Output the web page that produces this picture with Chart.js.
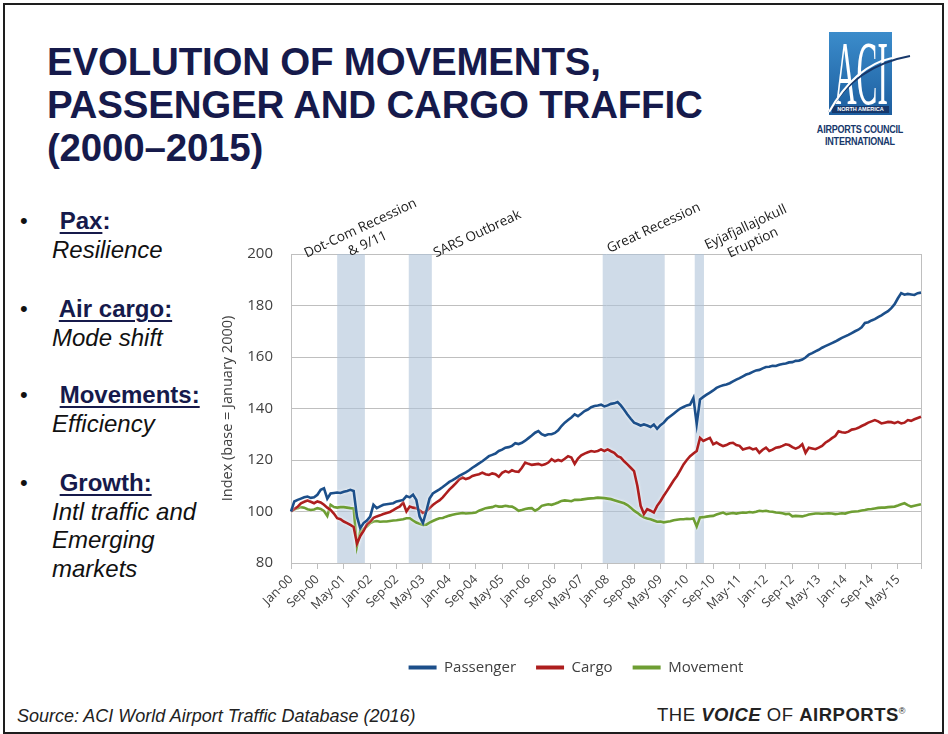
<!DOCTYPE html>
<html>
<head>
<meta charset="utf-8">
<script src="https://cdn.jsdelivr.net/npm/chart.js@4.4.1/dist/chart.umd.min.js"></script>
<style>
  body { margin: 0; width: 948px; height: 734px; overflow: hidden; background: #fff; position: relative;
         font-family: "Liberation Sans", Arial, sans-serif; }
  .frame { position: absolute; left: 3px; top: 3px; width: 937px; height: 727px; border: 2px solid #1e1e1e; }
  .title { position: absolute; left: 47px; top: 40px; font-weight: bold; font-size: 38.5px; line-height: 43px;
           color: #161a4b; letter-spacing: -0.2px; white-space: nowrap; }
  .blk { position: absolute; left: 0; font-size: 24px; line-height: 28.5px; }
  .blk .dot { position: absolute; left: 20px; top: 0; color: #111; font-size: 22px; }
  .blk .h { position: absolute; left: 53px; top: 0; font-weight: bold; color: #161a4b; white-space: pre; }
  .blk .h u { text-decoration-thickness: 2px; text-underline-offset: 3px; }
  .blk .t { position: absolute; left: 52px; top: 28.5px; font-style: italic; color: #111; white-space: nowrap; }
  #wrap { position: absolute; left: 200px; top: 190px; }
  .src { position: absolute; left: 17px; top: 706px; font-size: 18px; font-style: italic; color: #222; white-space: nowrap; }
  .voice { position: absolute; left: 657px; top: 704px; font-size: 18.5px; letter-spacing: 0.5px; color: #222; white-space: nowrap; }
  .voice sup { font-size: 9px; }
  .lbox { position: absolute; left: 829px; top: 32px; width: 63px; height: 83px;
          background: linear-gradient(#3b8ccb, #1d5e9f); overflow: hidden; }
  .aci { position: absolute; left: 5px; top: -12px; color: #fff; white-space: nowrap;
         font-family: "Liberation Serif", serif; font-size: 92px; transform: scaleX(0.34); transform-origin: 0 0; }
  .na { position: absolute; left: 3px; top: 74px; width: 57px; height: 7px; background: #17386b; color: #fff;
        font-size: 5.5px; line-height: 7px; text-align: center; font-weight: bold; white-space: nowrap; }
  .ltxt { position: absolute; left: 860px; top: 124px; font-weight: bold; font-size: 11px; line-height: 11.5px;
          color: #17386b; letter-spacing: -0.3px; white-space: nowrap; text-align: center;
          transform: translateX(-50%) scaleX(0.82); }
</style>
</head>
<body>
<div class="frame"></div>
<div class="title">EVOLUTION OF MOVEMENTS,<br>PASSENGER AND CARGO TRAFFIC<br>(2000–2015)</div>

<div class="lbox">
  <div class="aci">ACI</div>
  <div class="na">NORTH AMERICA</div>
</div>
<svg style="position:absolute;left:815px;top:40px" width="100" height="80">
  <path d="M14,72 Q40,26 95,16" stroke="#17386b" stroke-width="2" fill="none"/>
  <path d="M14,72 Q40,26 77,18" stroke="#ffffff" stroke-width="2.2" fill="none"/>
</svg>
<div class="ltxt">AIRPORTS COUNCIL<br>INTERNATIONAL</div>

<div class="blk" style="top:207px"><span class="dot">•</span><span class="h"> <u>Pax</u>:</span><span class="t">Resilience</span></div>
<div class="blk" style="top:295px"><span class="dot">•</span><span class="h"> <u>Air cargo:</u></span><span class="t">Mode shift</span></div>
<div class="blk" style="top:381px"><span class="dot">•</span><span class="h"> <u>Movements:</u></span><span class="t">Efficiency</span></div>
<div class="blk" style="top:469px"><span class="dot">•</span><span class="h"> <u>Growth:</u></span><span class="t">Intl traffic and<br>Emerging<br>markets</span></div>

<div id="wrap"><canvas id="myChart" width="735" height="495"></canvas></div>

<div class="src">Source: ACI World Airport Traffic Database (2016)</div>
<div class="voice">THE <b><i>VOICE</i></b> OF <b>AIRPORTS</b><sup>®</sup></div>

<script>
// Monthly index, base Jan-2000 = 100 (one row per year, Jan..Dec, 2000-2015)
const months = ["Jan", "Feb", "Mar", "Apr", "May", "Jun", "Jul", "Aug", "Sep", "Oct", "Nov", "Dec"];
const years = [2000, 2001, 2002, 2003, 2004, 2005, 2006, 2007, 2008, 2009, 2010, 2011, 2012, 2013, 2014, 2015];

const passenger = [
  100, 103.9, 104.5, 105, 105.5, 105.8, 105.3, 105.5, 106.5, 108.4, 109, 105,
  107, 107.2, 107.4, 107.2, 107.7, 108, 108.4, 108, 98, 93.5, 95.5, 96.5,
  98, 102.6, 101.3, 102, 102.6, 102.8, 103, 103.2, 103.9, 104.2, 104.5, 106,
  105.5, 106.5, 104.5, 98, 95.5, 100, 105, 107, 107.8, 108.6, 109.5, 110.5,
  111.5, 112.2, 113, 113.8, 114.5, 115.2, 116, 117, 117.8, 118.7, 119.5, 120.5,
  121.5, 122, 122.5, 123.5, 124, 124.8, 125, 125.5, 126.5, 126.2, 126.7, 127.5,
  128.5, 129.5, 130.6, 131.2, 130, 129.5, 130, 130, 130.5, 131.5, 133.2, 134.5,
  135.5, 136.5, 137.7, 137, 138, 139, 139.6, 140.5, 141, 141.2, 141.5, 140.8,
  141.2, 141.8, 142, 142.5, 141.2, 139.5, 137.7, 136, 134.5, 134, 133.4, 133.8,
  133.4, 132.8, 133.8, 132.1, 133.5, 134.5, 136, 137, 138, 139, 140, 140.6,
  141.2, 141.5, 144.1, 134, 143.5, 144.5, 145.4, 146.2, 147, 148, 148.6, 149,
  149.3, 149.8, 150.5, 151.2, 151.8, 152.5, 153.2, 153.6, 154.2, 154.8, 155, 155.6,
  156.1, 156.2, 156.6, 156.5, 157, 157.3, 157.5, 157.9, 158, 158.5, 158.6, 159,
  159.8, 160.9, 161.5, 162.2, 162.8, 163.6, 164.2, 164.8, 165.4, 166, 166.7, 167.4,
  168, 168.6, 169.3, 170, 170.6, 171.5, 173.2, 173.5, 174.2, 174.7, 175.5, 176.2,
  177, 177.8, 179, 180.5, 182.8, 184.8, 184.2, 184.5, 184.3, 184.1, 184.8, 185
];

const cargo = [
  100, 101, 101.8, 103.2, 103.8, 104.3, 103.8, 103.2, 103.9, 103.5, 102.6, 101.5,
  100.6, 99.2, 97.4, 97, 96.1, 95.5, 94.8, 94, 87.5, 90.5, 92.5, 95,
  96.1, 97.5, 98.1, 98.5, 99, 99.4, 99.8, 100.5, 101.3, 102, 103.5, 100,
  101.9, 101.5, 101.3, 100.5, 99.4, 100, 101.3, 102.5, 103.5, 104.3, 105.5, 107,
  108.5, 109.7, 111, 112.5, 113.2, 112.6, 113, 113.8, 114.2, 114.5, 115.1, 114.5,
  114.2, 114.8, 114.5, 113.5, 115, 115.7, 115.2, 116, 115.5, 115.4, 117, 119,
  118.5, 118.1, 118.3, 118.5, 118, 118.3, 119, 120.3, 119.5, 120, 119.6, 120.5,
  121.5, 121, 118.5, 120.6, 121.8, 122.5, 123, 123.5, 123.2, 123.5, 124.1, 123.5,
  124.1, 123.4, 122.8, 121.5, 120.9, 119.5, 118.3, 117, 115.7, 110, 102.2, 99,
  100.9, 100.3, 99.6, 102.2, 104, 106.1, 108, 110, 112, 113.8, 116, 118.3,
  120, 121.5, 122.5, 123.5, 128.6, 127.4, 128, 128.6, 126.1, 126.8, 126, 125.4,
  125.8, 126.5, 126.7, 125.8, 125.5, 124.1, 124.5, 124.8, 124.1, 124.5, 122.8, 124,
  124.8, 123.5, 124, 124.8, 125, 125.5, 126.1, 125.8, 125, 124.4, 125, 126.1,
  122.8, 124.8, 124.5, 124.2, 124.8, 125.5, 126.7, 127.5, 128.5, 129.3, 131.2, 130.8,
  130.6, 131, 131.8, 132, 132.5, 133.2, 133.8, 134.5, 135, 135.5, 135, 134.2,
  134.5, 134.8, 134.7, 134.3, 134.8, 134.2, 134.5, 135.5, 135.2, 135.8, 136.3, 136.8
];

const movement = [
  100, 100.8, 101.3, 101.7, 101.5, 100.9, 100.6, 100.8, 101.3, 101, 100.2, 98.3,
  102.6, 101.7, 101.5, 101.7, 101.7, 101.5, 101.3, 101.2, 86.5, 92.3, 93.3, 94.2,
  95.5, 96.1, 96.3, 96, 96.1, 96.1, 96.3, 96.5, 96.6, 96.8, 97, 97.4,
  97.4, 96.5, 95.7, 95.2, 94.8, 94.9, 95.7, 96.3, 96.9, 97.4, 97.5, 98,
  98.4, 98.7, 99, 99.2, 99.4, 99.2, 99.3, 99.4, 99.6, 100.3, 100.8, 101.3,
  101.5, 101.7, 102.2, 101.9, 101.9, 102.2, 102, 101.9, 101.2, 100.3, 100.6, 101,
  101.2, 101.3, 100.3, 101, 102.2, 102.5, 102.8, 102.6, 103, 103.5, 104.1, 104.3,
  104.2, 104, 104.5, 104.5, 104.6, 104.8, 105, 105.1, 105.2, 105.4, 105.3, 105.2,
  105, 104.8, 104.4, 104, 103.6, 103.2, 102.5, 101.5, 100.3, 99.5, 98.5, 97.7,
  97.3, 97, 96.5, 96, 96.1, 95.8, 96, 96.2, 96.6, 96.8, 97, 97,
  97.2, 97.1, 97.3, 94.2, 97.7, 97.8, 98, 98.2, 98.3, 98.8, 99.2, 99.6,
  99, 99.2, 99.4, 99.2, 99.4, 99.6, 99.5, 99.8, 99.6, 99.9, 100.3, 100.1,
  100.3, 100, 99.9, 99.6, 99.5, 99.3, 99, 99.1, 98.1, 98.3, 98.2, 98.1,
  98.4, 98.8, 99, 99.2, 99.2, 99.1, 99.2, 99.3, 99.2, 99, 99.1, 99.3,
  99.2, 99.6, 99.9, 100, 100.1, 100.4, 100.6, 100.9, 101, 101.2, 101.4, 101.5,
  101.5, 101.7, 101.8, 101.9, 102.3, 102.8, 103.2, 102.5, 101.9, 102.2, 102.5, 102.8
];

// shaded events, in month index (0 = Jan-00)
const bandStart = [14, 35.7, 94.5, 122.4];
const bandEnd = [22.4, 42.7, 113.3, 125.2];
const bandLabels = [["Dot-Com Recession", "& 9/11"], ["SARS Outbreak"], ["Great Recession"], ["Eyjafjallajokull", "Eruption"]];

const yTicks = [80, 100, 120, 140, 160, 180, 200];

const labels = [];
years.forEach((y) => months.forEach((m) => labels.push(m + "-" + String(y).slice(2))));

Chart.defaults.font.family = "'Open Sans', sans-serif";
Chart.defaults.color = "#404040";

const eventsPlugin = {
  id: "events",
  beforeDatasetsDraw(chart) {
    const { ctx, chartArea: a, scales: { x } } = chart;
    ctx.save();
    ctx.fillStyle = "rgba(175,195,217,0.6)";
    bandStart.forEach((s, i) => {
      const x0 = x.getPixelForValue(s);
      const x1 = x.getPixelForValue(bandEnd[i]);
      ctx.fillRect(x0, a.top, x1 - x0, a.bottom - a.top);
    });
    // right edge of plot frame
    ctx.strokeStyle = "#bfbfbf";
    ctx.lineWidth = 1;
    ctx.beginPath();
    ctx.moveTo(Math.round(a.right) + 0.5, a.top);
    ctx.lineTo(Math.round(a.right) + 0.5, a.bottom + 6);
    ctx.stroke();
    ctx.restore();
  },
  beforeDatasetDraw(chart) {
    chart.ctx.save();
    chart.ctx.shadowColor = "rgba(255,255,255,0.9)";
    chart.ctx.shadowBlur = 3;
  },
  afterDatasetDraw(chart) {
    chart.ctx.restore();
  },
  afterDraw(chart) {
    const { ctx, chartArea: a, scales: { x } } = chart;
    const shift = [[13, -18], [57, -20], [20, -26], [50, -19]];
    ctx.save();
    ctx.font = "13.5px 'Open Sans', sans-serif";
    ctx.fillStyle = "#1a1a1a";
    ctx.textAlign = "center";
    ctx.textBaseline = "middle";
    bandLabels.forEach((lines, i) => {
      const cx = x.getPixelForValue((bandStart[i] + bandEnd[i]) / 2) + shift[i][0];
      const cy = a.top + shift[i][1];
      ctx.save();
      ctx.translate(cx, cy);
      ctx.rotate(-25 * Math.PI / 180);
      const lh = 17;
      lines.forEach((t, j) => ctx.fillText(t, 0, (j - (lines.length - 1) / 2) * lh));
      ctx.restore();
    });
    ctx.restore();
  }
};

const ctx = document.getElementById("myChart").getContext("2d");

const config = {
  type: "line",
  data: {
    labels,
    datasets: [
      { label: "Passenger", data: passenger, borderColor: "#1c4f8a", backgroundColor: "#1c4f8a" },
      { label: "Cargo", data: cargo, borderColor: "#ad1e1e", backgroundColor: "#ad1e1e" },
      { label: "Movement", data: movement, borderColor: "#6e9e33", backgroundColor: "#6e9e33" },
    ],
  },
  options: {
    responsive: false,
    animation: false,
    borderWidth: 2.6,
    pointRadius: 0,
    tension: 0,
    layout: { padding: { left: 31, right: 14, top: 64, bottom: 0 } },
    plugins: {
      tooltip: { enabled: false },
      legend: {
        position: "bottom",
        labels: {
          boxWidth: 28,
          boxHeight: 4,
          padding: 20,
          font: { size: 15 },
          color: "#404040",
          generateLabels: (chart) =>
            chart.data.datasets.map((ds, i) => ({
              text: ds.label,
              fillStyle: ds.borderColor,
              strokeStyle: ds.borderColor,
              lineWidth: 0,
              datasetIndex: i,
              fontColor: "#404040",
            })),
        },
      },
    },
    scales: {
      x: {
        grid: {
          drawOnChartArea: false,
          tickLength: 6,
          color: (c) => (c.index % 8 === 0 ? "#bfbfbf" : "rgba(0,0,0,0)"),
        },
        border: { color: "#bfbfbf" },
        ticks: {
          autoSkip: false,
          minRotation: 45,
          maxRotation: 45,
          font: { size: 12.5 },
          color: "#404040",
          callback: (v, i) => (i % 8 === 0 ? labels[i] : ""),
        },
        afterFit: (scale) => { scale.height = 77; },
      },
      y: {
        min: 80,
        max: 200,
        afterBuildTicks: (scale) => { scale.ticks = yTicks.map((v) => ({ value: v })); },
        grid: { color: "#bfbfbf", drawTicks: false },
        border: { color: "#bfbfbf" },
        ticks: { padding: 18, font: { size: 15 }, color: "#404040" },
        title: {
          display: true,
          text: "Index (base = January 2000)",
          font: { size: 14.5 },
          color: "#404040",
          padding: { top: -12, bottom: 0 },
        },
        afterFit: (scale) => { scale.width = 60; },
      },
    },
  },
  plugins: [eventsPlugin],
};

const myChart = new Chart(ctx, config);
</script>
</body>
</html>
